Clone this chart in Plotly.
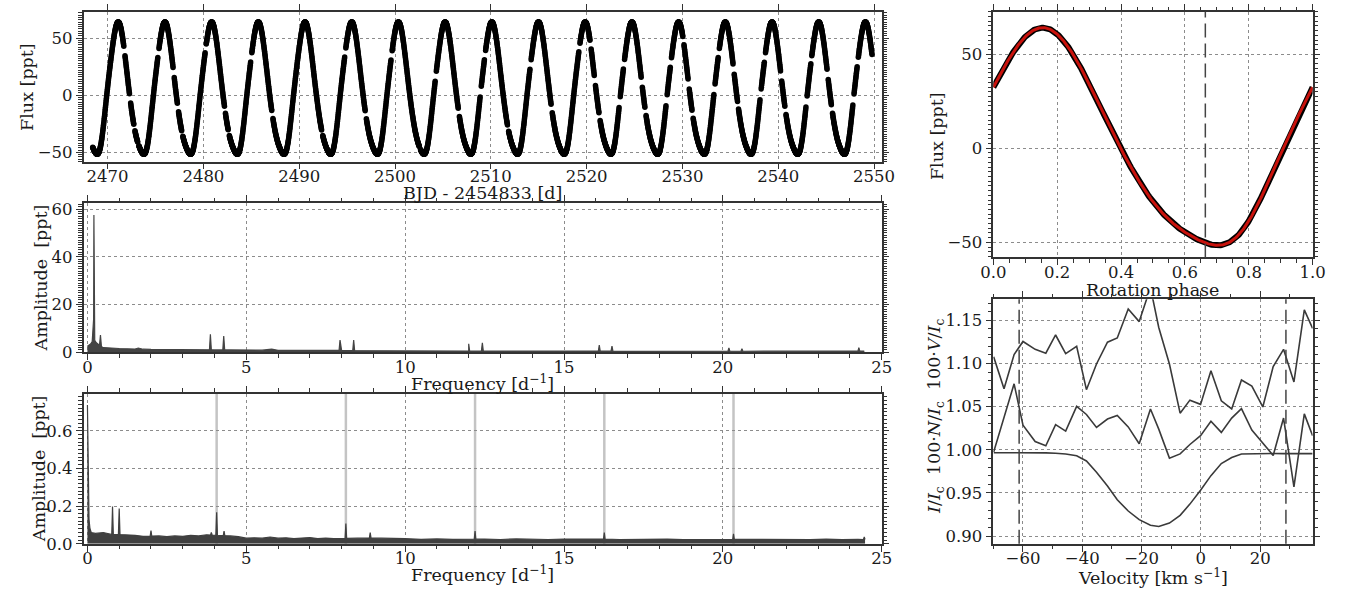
import numpy as np
import plotly.graph_objects as go

# ------------------------------------------------------------------ data
# folded light-curve template
phase_knots = [0.0, 0.033, 0.063, 0.10, 0.125, 0.15, 0.175, 0.20, 0.237, 0.268, 0.30, 0.34,
               0.37, 0.40, 0.432, 0.473, 0.504, 0.555, 0.60, 0.647, 0.675, 0.698, 0.72,
               0.739, 0.78, 0.80, 0.841, 0.882, 0.913, 0.949, 1.0]
flux_knots = [33.0, 42.6, 51.2, 59.0, 62.5, 64.2, 63.5, 60.9, 53.0, 44.3, 33.9, 20.9,
              9.7, -0.7, -11.0, -21.5, -29.2, -38.8, -44.8, -49.1, -50.8, -51.4, -51.2,
              -50.0, -44.0, -39.0, -24.9, -9.3, 1.0, 14.9, 32.5]
rot_period_d = 4.874
epoch_bjd = 2470.36
lc_start_bjd = 2468.45
lc_end_bjd = 2549.80
lc_cadence_d = 0.0204
lc_gaps = [(2471.70, 2471.80), (2472.30, 2472.40), (2472.75, 2472.85), (2473.15, 2473.25),
           (2475.25, 2475.35), (2476.85, 2476.95), (2477.30, 2477.40), (2477.75, 2477.85),
           (2480.20, 2480.30), (2482.20, 2482.30), (2482.60, 2482.70), (2484.95, 2485.05),
           (2487.15, 2487.25), (2492.35, 2492.45), (2494.75, 2494.85), (2496.90, 2497.00),
           (2499.60, 2499.70), (2502.55, 2502.65), (2504.20, 2504.30), (2506.60, 2506.70),
           (2508.90, 2509.00), (2509.35, 2509.45), (2511.75, 2511.85), (2514.10, 2514.20),
           (2516.30, 2516.40), (2519.20, 2519.30), (2520.35, 2520.45), (2520.80, 2520.90),
           (2521.30, 2521.40), (2523.40, 2523.50), (2523.85, 2523.95), (2525.70, 2525.80),
           (2526.10, 2526.20), (2528.30, 2528.40), (2528.75, 2528.85), (2530.05, 2530.15),
           (2530.60, 2530.70), (2531.00, 2531.10), (2533.30, 2533.40), (2533.75, 2533.85),
           (2535.30, 2535.40), (2535.75, 2535.85), (2538.10, 2538.20), (2538.55, 2538.65),
           (2540.25, 2540.35), (2540.70, 2540.80), (2542.90, 2543.00), (2543.40, 2543.50),
           (2545.10, 2545.20), (2545.55, 2545.65), (2547.80, 2547.90), (2548.25, 2548.35)]
phase_marker = 0.664

# amplitude spectrum of the light curve
ft_low_freq = [0.0, 0.05, 0.10, 0.15, 0.18, 0.195, 0.204, 0.214, 0.23, 0.28, 0.33, 0.38, 0.41, 0.44, 0.48]
ft_low_amp = [2.5, 3.0, 3.5, 4.5, 10.0, 14.0, 57.5, 13.0, 5.0, 4.0, 3.5, 3.0, 7.2, 2.5, 2.0]
ft_base_freq = [0.5, 1.0, 1.5, 1.6, 1.75, 2.0, 2.5, 3.0, 3.5, 4.0, 4.5, 5.0, 5.5, 5.8, 6.0, 6.5,
                7.0, 7.5, 8.0, 8.5, 9.0, 9.5, 10.0, 11.0, 12.0, 13.0, 14.0, 15.0, 16.0, 17.0,
                18.0, 19.0, 20.0, 21.0, 22.0, 23.0, 24.0, 24.45]
ft_base_amp = [2.0, 1.6, 1.4, 1.8, 1.3, 1.2, 1.2, 1.1, 1.1, 1.0, 1.0, 0.9, 0.9, 1.3, 0.85, 0.8,
               0.8, 0.75, 0.8, 0.7, 0.65, 0.65, 0.6, 0.6, 0.55, 0.55, 0.5, 0.5, 0.5, 0.5,
               0.45, 0.45, 0.45, 0.45, 0.5, 0.5, 0.5, 0.5]
ft_peak_freq = [3.87, 4.29, 7.95, 8.38, 12.0, 12.43, 16.11, 16.51, 20.19, 20.6, 24.28]
ft_peak_amp = [7.5, 6.8, 5.1, 5.1, 3.6, 4.0, 3.0, 2.6, 1.8, 1.5, 2.0]

# amplitude spectrum of the residuals
res_low_freq = [0.0, 0.02, 0.05, 0.08, 0.12]
res_low_amp = [0.737, 0.30, 0.13, 0.08, 0.06]
res_base_freq = [0.25, 0.5, 0.75, 1.25, 1.5, 1.75, 2.25, 2.5, 2.75, 3.0, 3.25, 3.5, 3.75,
                 4.5, 4.75, 5.0, 5.25, 5.5, 5.75, 6.0, 6.25, 6.5, 6.75, 7.0, 7.25, 7.5, 7.75,
                 8.5, 8.75, 9.25, 9.5, 9.75, 10.0, 10.5, 11.0, 11.5, 12.5, 13.0, 13.5, 14.0,
                 14.5, 15.0, 15.5, 16.0, 16.75, 17.25, 17.75, 18.25, 18.75, 19.25, 19.75,
                 20.75, 21.25, 21.75, 22.25, 22.75, 23.25, 23.75, 24.25, 24.4]
res_base_amp = [0.055, 0.060, 0.050, 0.048, 0.045, 0.040, 0.042, 0.038, 0.042, 0.040, 0.045,
                0.042, 0.048, 0.042, 0.038, 0.030, 0.032, 0.030, 0.036, 0.030, 0.032, 0.028,
                0.030, 0.033, 0.028, 0.030, 0.027, 0.030, 0.032, 0.030, 0.028, 0.026, 0.027,
                0.024, 0.026, 0.024, 0.025, 0.023, 0.026, 0.024, 0.023, 0.025, 0.024, 0.026,
                0.023, 0.024, 0.022, 0.025, 0.023, 0.024, 0.022, 0.024, 0.023, 0.022, 0.024,
                0.023, 0.025, 0.022, 0.024, 0.023]
res_peak_freq = [0.79, 1.0, 2.0, 3.9, 4.067, 4.3, 8.134, 8.9, 12.2, 16.268, 20.335, 24.45]
res_peak_amp = [0.198, 0.188, 0.07, 0.06, 0.167, 0.068, 0.107, 0.06, 0.068, 0.06, 0.053, 0.037]
harmonic_freq = [4.067, 8.134, 12.2, 16.268, 20.335]

# LSD profiles
velocity = [-69.9, -66.4, -63.0, -60.0, -55.9, -52.3, -49.0, -45.6, -41.9, -38.6, -35.2,
            -31.5, -28.2, -24.5, -20.8, -17.0, -14.2, -10.6, -7.0, -3.7, -0.1, 3.4, 6.9,
            10.4, 13.7, 17.2, 20.9, 24.4, 27.9, 31.4, 34.9, 37.7]
stokes_I = [0.9965, 0.9966, 0.9966, 0.9966, 0.9966, 0.9964, 0.9960, 0.9950, 0.9930, 0.9870,
            0.9740, 0.9580, 0.9420, 0.9290, 0.9190, 0.9125, 0.9110, 0.9150, 0.9240, 0.9370,
            0.9530, 0.9700, 0.9840, 0.9910, 0.9950, 0.9955, 0.9957, 0.9957, 0.9955, 0.9955,
            0.9955, 0.9955]
null_N = [0.9974, 1.0379, 1.0764, 1.0284, 1.0095, 1.0046, 1.0292, 1.0216, 1.0503, 1.0409,
          1.0258, 1.0356, 1.0397, 1.0265, 1.0069, 1.0473, 1.0239, 0.9903, 0.9952, 1.0061,
          1.0163, 1.0330, 1.0201, 1.0367, 1.0477, 1.0228, 1.0076, 0.9933, 1.0367, 0.9570,
          1.0416, 1.0163]
stokes_V = [1.1077, 1.0707, 1.1104, 1.1255, 1.1164, 1.1119, 1.1330, 1.1115, 1.1198, 1.0696,
            1.0994, 1.1247, 1.1296, 1.1632, 1.1485, 1.1880, 1.1417, 1.0994, 1.0424, 1.0575,
            1.0526, 1.0915, 1.0567, 1.0473, 1.0809, 1.0737, 1.0496, 1.0964, 1.1164, 1.0786,
            1.1621, 1.1406]
vel_limits = [-61.3, 28.7]

# ------------------------------------------------------------------ derived
# smooth periodic template through the read knots (least-squares Fourier series)
N_HARM = 5
pk = np.array(phase_knots)
fk = np.array(flux_knots)


def design(p):
    cols = [np.ones_like(p)]
    for k in range(1, N_HARM + 1):
        cols += [np.cos(2 * np.pi * k * p), np.sin(2 * np.pi * k * p)]
    return np.vstack(cols).T


coef, *_ = np.linalg.lstsq(design(pk), fk, rcond=None)


def template(p):
    return design(np.asarray(p) % 1.0) @ coef


t = np.arange(lc_start_bjd, lc_end_bjd, lc_cadence_d)
keep = np.ones_like(t, dtype=bool)
for a, b in lc_gaps:
    keep &= ~((t >= a) & (t <= b))
t = t[keep]
lc_flux = template((t - epoch_bjd) / rot_period_d)

ph_fine = np.linspace(0, 1, 400)
model_flux = template(ph_fine)


def build_spectrum(low_f, low_a, base_f, base_a, pk_f, pk_a, hw):
    f = list(low_f) + list(base_f)
    a = list(low_a) + list(base_a)
    bf = np.array(low_f + base_f)
    ba = np.array(low_a + base_a)
    for pf, pa in zip(pk_f, pk_a):
        b = float(np.interp(pf, bf, ba))
        f += [pf - hw, pf, pf + hw]
        a += [b, pa, b]
    order = np.argsort(f)
    return np.array(f)[order], np.array(a)[order]


ft_f, ft_a = build_spectrum(ft_low_freq, ft_low_amp, ft_base_freq, ft_base_amp,
                            ft_peak_freq, ft_peak_amp, 0.03)
rs_f, rs_a = build_spectrum(res_low_freq, res_low_amp, res_base_freq, res_base_amp,
                            res_peak_freq, res_peak_amp, 0.025)

# ------------------------------------------------------------------ figure
W, H = 1357, 604
FONT = "DejaVu Serif"
TXT = "#1a1a1a"
AX = "#333333"
FS_TICK = 16.5
FS_TITLE = 17.5

fig = go.Figure()

fig.add_trace(go.Scatter(x=t, y=lc_flux, mode="markers",
                         marker=dict(size=5.5, color="black"), xaxis="x", yaxis="y",
                         showlegend=False))
fig.add_trace(go.Scatter(x=ft_f, y=ft_a, mode="lines", fill="tozeroy",
                         line=dict(color="#444444", width=1.2), fillcolor="#444444",
                         xaxis="x2", yaxis="y2", showlegend=False))
fig.add_trace(go.Scatter(x=rs_f, y=rs_a, mode="lines", fill="tozeroy",
                         line=dict(color="#404040", width=1.2), fillcolor="#404040",
                         xaxis="x3", yaxis="y3", showlegend=False))
fig.add_trace(go.Scatter(x=ph_fine, y=model_flux, mode="lines",
                         line=dict(color="black", width=6), xaxis="x4", yaxis="y4",
                         showlegend=False))
fig.add_trace(go.Scatter(x=ph_fine, y=model_flux, mode="lines",
                         line=dict(color="#c8120c", width=3), xaxis="x4", yaxis="y4",
                         showlegend=False))
for prof in (stokes_I, null_N, stokes_V):
    fig.add_trace(go.Scatter(x=velocity, y=prof, mode="lines",
                             line=dict(color="#3a3a3a", width=1.6), xaxis="x5", yaxis="y5",
                             showlegend=False))

shapes = []
for hf in harmonic_freq:
    shapes.append(dict(type="line", xref="x3", yref="y3 domain", x0=hf, x1=hf, y0=0, y1=1,
                       line=dict(color="#c4c4c4", width=2.5), layer="below"))
shapes.append(dict(type="line", xref="x4", yref="y4 domain", x0=phase_marker, x1=phase_marker,
                   y0=0, y1=1, line=dict(color="#444444", width=1.5, dash="14px,6px")))
for vl in vel_limits:
    shapes.append(dict(type="line", xref="x5", yref="y5 domain", x0=vl, x1=vl, y0=0, y1=1,
                       line=dict(color="#444444", width=1.5, dash="14px,6px")))


def px(x):
    return x / W


def py(y):
    return 1 - y / H


tickfont = dict(family=FONT, size=FS_TICK, color=TXT)


def axis(domain, rng, dtick, minor_dtick=None, tick0=None, fmt=None, anchor=None, xax=False):
    d = dict(domain=domain, range=rng, dtick=dtick, showline=True, linecolor=AX,
             linewidth=1.5, mirror="allticks", ticks="outside", ticklen=6, tickwidth=1.2,
             tickcolor=AX, showgrid=True, gridcolor="#8c8c8c", griddash="dot", gridwidth=1.3,
             zeroline=False, tickfont=tickfont, anchor=anchor, fixedrange=True)
    if xax:
        d["ticklabelstandoff"] = -7
    if tick0 is not None:
        d["tick0"] = tick0
    if fmt:
        d["tickformat"] = fmt
    if minor_dtick:
        d["minor"] = dict(ticks="outside", ticklen=3.5, tickwidth=1, tickcolor=AX,
                          dtick=minor_dtick, showgrid=False)
    return d


xl = [px(72), px(885.7)]
xr = [px(999.5), px(1325)]
y_tl = [py(162), py(9)]
y_ml = [py(357), py(204.5)]
y_bl = [py(552.7), py(399.3)]
y_tr = [py(260), py(9)]
y_br = [py(552.7), py(302.7)]

layout = dict(
    width=W, height=H, margin=dict(l=0, r=0, t=0, b=0),
    paper_bgcolor="white", plot_bgcolor="white", showlegend=False,
    font=dict(family=FONT, size=FS_TICK, color=TXT),
    xaxis=axis(xl, [2467.5, 2550.8], 10, tick0=2470, anchor="y", xax=True),
    yaxis=axis(y_tl, [-58, 73], 50, minor_dtick=2, tick0=0, anchor="x"),
    xaxis2=axis(xl, [-0.12, 25], 5, minor_dtick=1, tick0=0, anchor="y2", xax=True),
    yaxis2=axis(y_ml, [0, 62.5], 20, minor_dtick=1, tick0=0, anchor="x2"),
    xaxis3=axis(xl, [-0.12, 25], 5, minor_dtick=1, tick0=0, anchor="y3", xax=True),
    yaxis3=axis(y_bl, [0, 0.797], 0.2, minor_dtick=0.02, tick0=0, fmt=".1f", anchor="x3"),
    xaxis4=axis(xr, [0, 1], 0.2, minor_dtick=0.05, tick0=0, fmt=".1f", anchor="y4", xax=True),
    yaxis4=axis(y_tr, [-58, 72.5], 50, minor_dtick=2.5, tick0=0, anchor="x4"),
    xaxis5=axis(xr, [-70, 37.7], 20, minor_dtick=10, tick0=0, anchor="y5", xax=True),
    yaxis5=axis(y_br, [0.891, 1.1745], 0.05, minor_dtick=0.01, tick0=0, fmt=".2f", anchor="x5"),
    shapes=shapes,
)
fig.update_layout(**layout)

ann_font = dict(family=FONT, size=FS_TITLE, color=TXT)
NB = "\u00a0"
titles = [
    ("Flux [ppt]", 14, 86, -90),
    ("BJD - 2454833 [d]", 479, 194, 0),
    ("Amplitude" + NB + NB + "[ppt]", 28, 281, -90),
    ("Frequency [d<sup>\u22121</sup>]", 479, 388, 0),
    ("Amplitude" + NB + NB + "[ppt]", 26, 476, -90),
    ("Frequency [d<sup>\u22121</sup>]", 479, 584, 0),
    ("Flux [ppt]", 942, 136, -90),
    ("Rotation phase", 1162, 293, 0),
    ("<i>I</i>/<i>I</i><sub>c</sub>" + NB * 2 + "100\u00b7<i>N</i>/<i>I</i><sub>c</sub>" + NB * 2
     + "100\u00b7<i>V</i>/<i>I</i><sub>c</sub>", 941, 422, -90),
    ("Velocity [km s<sup>\u22121</sup>]", 1162, 587, 0),
]
for text, x, y, ang in titles:
    fig.add_annotation(text=text, x=px(x), y=py(y), xref="paper", yref="paper",
                       showarrow=False, textangle=ang, font=ann_font,
                       xanchor="center", yanchor="middle")

fig.write_html("out.html")
